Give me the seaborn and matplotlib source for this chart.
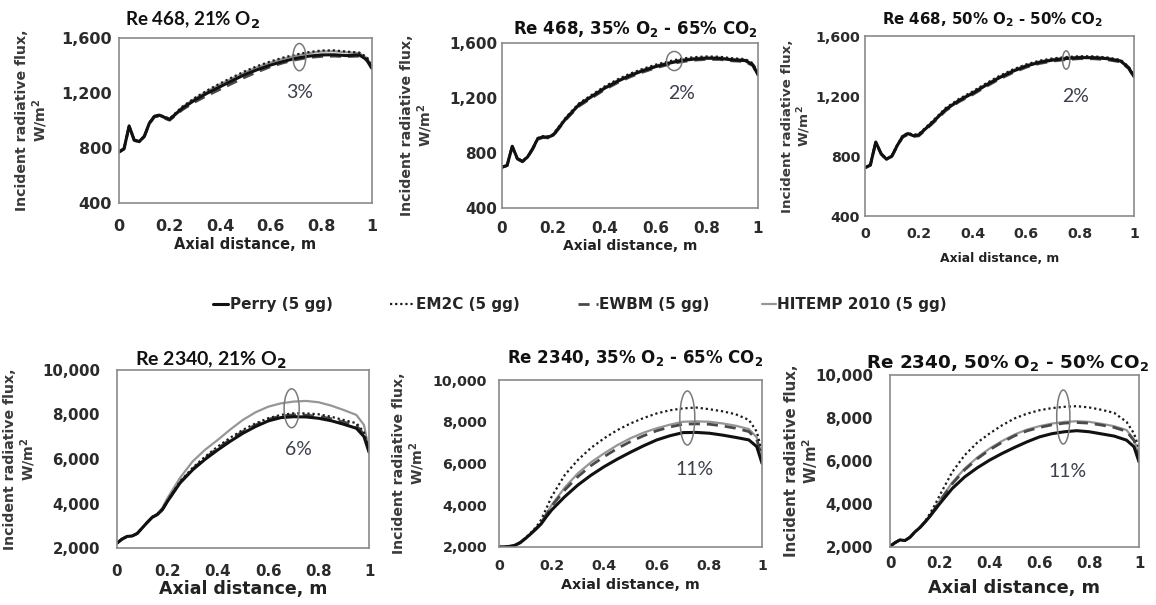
import numpy as np
import pandas as pd
import matplotlib
matplotlib.use("Agg")
import matplotlib.pyplot as plt
import seaborn as sns
from matplotlib.patches import Ellipse
from matplotlib.lines import Line2D
from matplotlib.ticker import MultipleLocator, FuncFormatter

# Axial positions along the furnace (m)
axial = [0.00, 0.02, 0.04, 0.06, 0.08, 0.10, 0.12, 0.14, 0.16, 0.18, 0.20, 0.25, 0.30, 0.35,
         0.40, 0.45, 0.50, 0.55, 0.60, 0.65, 0.70, 0.75, 0.80, 0.85, 0.90, 0.95, 0.98, 1.00]

models = ["Perry (5 gg)", "EM2C (5 gg)", "EWBM (5 gg)", "HITEMP 2010 (5 gg)"]

# Incident radiative flux (W/m2) -- Re 468, 21% O2
perry_468_21 = [771, 795, 960, 858, 846, 885, 980, 1030, 1038, 1022, 1008, 1088, 1149, 1200, 1246, 1292, 1336, 1372, 1404, 1430, 1453, 1468, 1477, 1478, 1472, 1477, 1441, 1380]
em2c_468_21 = [773, 798, 962, 860, 848, 888, 984, 1034, 1042, 1027, 1014, 1100, 1165, 1220, 1270, 1316, 1360, 1398, 1430, 1458, 1480, 1497, 1509, 1510, 1501, 1494, 1460, 1392]
ewbm_468_21 = [769, 792, 957, 855, 843, 882, 976, 1026, 1033, 1016, 1002, 1078, 1135, 1183, 1227, 1272, 1316, 1356, 1392, 1420, 1442, 1458, 1466, 1468, 1465, 1468, 1435, 1375]
hitemp_468_21 = [775, 800, 965, 862, 850, 890, 986, 1036, 1043, 1026, 1012, 1097, 1160, 1214, 1263, 1308, 1352, 1390, 1422, 1450, 1472, 1490, 1502, 1504, 1496, 1490, 1455, 1388]

# Re 468, 35% O2 - 65% CO2
perry_468_35 = [697, 710, 849, 759, 739, 771, 832, 905, 917, 915, 930, 1051, 1149, 1210, 1270, 1320, 1363, 1398, 1428, 1452, 1472, 1483, 1489, 1488, 1477, 1472, 1441, 1368]
em2c_468_35 = [699, 713, 852, 762, 742, 775, 837, 910, 922, 921, 937, 1060, 1160, 1222, 1283, 1334, 1377, 1412, 1442, 1466, 1486, 1497, 1502, 1500, 1489, 1483, 1452, 1377]
ewbm_468_35 = [695, 708, 846, 756, 736, 768, 828, 900, 912, 910, 925, 1044, 1140, 1200, 1260, 1310, 1353, 1388, 1419, 1443, 1463, 1475, 1481, 1480, 1470, 1465, 1435, 1362]
hitemp_468_35 = [698, 712, 851, 761, 741, 773, 835, 908, 920, 918, 934, 1056, 1155, 1216, 1277, 1327, 1370, 1405, 1435, 1459, 1479, 1490, 1496, 1494, 1483, 1478, 1447, 1373]

# Re 468, 50% O2 - 50% CO2
perry_468_50 = [722, 740, 893, 815, 778, 800, 870, 930, 949, 935, 940, 1022, 1110, 1170, 1218, 1272, 1322, 1365, 1400, 1425, 1440, 1450, 1456, 1455, 1449, 1433, 1389, 1329]
em2c_468_50 = [724, 743, 896, 818, 781, 804, 875, 935, 955, 941, 947, 1031, 1120, 1181, 1230, 1284, 1334, 1377, 1411, 1436, 1451, 1460, 1465, 1464, 1457, 1441, 1396, 1335]
ewbm_468_50 = [720, 738, 890, 812, 775, 797, 866, 925, 944, 930, 934, 1015, 1102, 1162, 1209, 1263, 1313, 1356, 1392, 1417, 1433, 1443, 1449, 1448, 1442, 1427, 1383, 1324]
hitemp_468_50 = [723, 742, 895, 817, 780, 802, 873, 933, 952, 938, 944, 1027, 1116, 1176, 1225, 1279, 1329, 1372, 1406, 1431, 1446, 1456, 1461, 1460, 1453, 1437, 1393, 1332]

# Re 2340, 21% O2
perry_2340_21 = [2220, 2400, 2520, 2540, 2650, 2900, 3150, 3380, 3500, 3720, 4090, 4920, 5510, 5990, 6410, 6800, 7160, 7460, 7710, 7860, 7900, 7890, 7830, 7720, 7560, 7380, 7010, 6310]
em2c_2340_21 = [2220, 2400, 2520, 2540, 2650, 2900, 3150, 3390, 3520, 3750, 4120, 4990, 5600, 6110, 6560, 6960, 7310, 7600, 7830, 7980, 8050, 8050, 8010, 7900, 7750, 7610, 7200, 6490]
ewbm_2340_21 = [2220, 2400, 2520, 2540, 2650, 2900, 3150, 3385, 3510, 3735, 4105, 4950, 5550, 6050, 6480, 6880, 7240, 7530, 7780, 7930, 7980, 7970, 7920, 7810, 7660, 7500, 7110, 6400]
hitemp_2340_21 = [2220, 2400, 2520, 2540, 2650, 2900, 3160, 3400, 3550, 3800, 4240, 5150, 5890, 6420, 6860, 7330, 7760, 8100, 8350, 8500, 8580, 8610, 8550, 8400, 8200, 7980, 7530, 6410]

# Re 2340, 35% O2 - 65% CO2
perry_2340_35 = [2000, 2000, 2030, 2080, 2200, 2400, 2620, 2850, 3100, 3450, 3770, 4410, 4970, 5440, 5850, 6210, 6540, 6850, 7130, 7330, 7480, 7490, 7450, 7360, 7250, 7130, 6810, 6010]
em2c_2340_35 = [2000, 2000, 2030, 2090, 2220, 2430, 2670, 2930, 3300, 3850, 4410, 5450, 6170, 6750, 7210, 7600, 7920, 8180, 8400, 8550, 8640, 8680, 8600, 8500, 8360, 8090, 7530, 6570]
ewbm_2340_35 = [2000, 2000, 2030, 2085, 2210, 2410, 2640, 2880, 3150, 3560, 3950, 4730, 5370, 5900, 6330, 6720, 7050, 7330, 7570, 7750, 7880, 7900, 7880, 7800, 7690, 7530, 7150, 6250]
hitemp_2340_35 = [2000, 2000, 2030, 2085, 2210, 2410, 2640, 2880, 3150, 3580, 4010, 4850, 5530, 6060, 6490, 6880, 7210, 7480, 7690, 7860, 8000, 8020, 8000, 7920, 7810, 7650, 7250, 6330]

# Re 2340, 50% O2 - 50% CO2
perry_2340_50 = [2030, 2200, 2330, 2300, 2450, 2700, 2900, 3150, 3420, 3720, 4020, 4720, 5260, 5680, 6040, 6350, 6630, 6890, 7120, 7270, 7360, 7410, 7360, 7260, 7160, 6970, 6660, 5960]
em2c_2340_50 = [2030, 2200, 2330, 2300, 2450, 2700, 2910, 3180, 3550, 3950, 4410, 5490, 6270, 6850, 7280, 7660, 7980, 8200, 8360, 8460, 8520, 8550, 8490, 8380, 8240, 7820, 7280, 6580]
ewbm_2340_50 = [2030, 2200, 2330, 2300, 2450, 2700, 2905, 3165, 3440, 3780, 4130, 4940, 5590, 6100, 6520, 6870, 7170, 7400, 7560, 7680, 7760, 7790, 7760, 7670, 7560, 7380, 6950, 6230]
hitemp_2340_50 = [2030, 2200, 2330, 2300, 2450, 2700, 2905, 3170, 3450, 3800, 4170, 5000, 5650, 6160, 6580, 6930, 7230, 7460, 7620, 7740, 7820, 7850, 7820, 7730, 7620, 7440, 7000, 6270]

SUB2 = r"$_\mathbf{2}$"
panels = [
    dict(title="Re 468, 21% O" + SUB2,
         series=[perry_468_21, em2c_468_21, ewbm_468_21, hitemp_468_21],
         ylim=(400, 1600), ymajor=400, yminor=100,
         ellipse=(0.713, 1461, 0.051, 198), note=("3%", 0.714, 1205)),
    dict(title="Re 468, 35% O" + SUB2 + " - 65% CO" + SUB2,
         series=[perry_468_35, em2c_468_35, ewbm_468_35, hitemp_468_35],
         ylim=(400, 1600), ymajor=400, yminor=100,
         ellipse=(0.673, 1469, 0.061, 139), note=("2%", 0.70, 1235)),
    dict(title="Re 468, 50% O" + SUB2 + " - 50% CO" + SUB2,
         series=[perry_468_50, em2c_468_50, ewbm_468_50, hitemp_468_50],
         ylim=(400, 1600), ymajor=400, yminor=100,
         ellipse=(0.748, 1440, 0.027, 122), note=("2%", 0.781, 1195)),
    dict(title="Re 2340, 21% O" + SUB2,
         series=[perry_2340_21, em2c_2340_21, ewbm_2340_21, hitemp_2340_21],
         ylim=(2000, 10000), ymajor=2000, yminor=1000,
         ellipse=(0.693, 8280, 0.060, 1750), note=("6%", 0.72, 6405)),
    dict(title="Re 2340, 35% O" + SUB2 + " - 65% CO" + SUB2,
         series=[perry_2340_35, em2c_2340_35, ewbm_2340_35, hitemp_2340_35],
         ylim=(2000, 10000), ymajor=2000, yminor=1000,
         ellipse=(0.716, 8180, 0.057, 2590), note=("11%", 0.745, 5690)),
    dict(title="Re 2340, 50% O" + SUB2 + " - 50% CO" + SUB2,
         series=[perry_2340_50, em2c_2340_50, ewbm_2340_50, hitemp_2340_50],
         ylim=(2000, 10000), ymajor=2000, yminor=1000,
         ellipse=(0.696, 8047, 0.053, 2510), note=("11%", 0.712, 5503)),
]

# Panel geometry in pixels (left, top, right, bottom) and text styling
layout = [
    dict(box=(119, 38, 372, 203), title_xy=(193, 20), title_font="Lato", title_size=13.5,
         tick_size=11.5, xpad=11.5, ypad=5, xlab_top=237, xlab_size=10.5, ylab_right=50, ylab_size=10.2),
    dict(box=(502, 43, 758, 208), title_xy=(635, 29), title_font="DejaVu Sans", title_size=12,
         tick_size=11, xpad=9, ypad=3.6, xlab_top=239, xlab_size=10, ylab_right=435, ylab_size=10.2),
    dict(box=(865, 36, 1134, 216), title_xy=(993, 20), title_font="DejaVu Sans", title_size=10.8,
         tick_size=10.2, xpad=8, ypad=3.6, xlab_top=252, xlab_size=8.9, ylab_right=813, ylab_size=9.7),
    dict(box=(117, 370, 369, 548), title_xy=(211, 360), title_font="Lato", title_size=14,
         tick_size=10.8, xpad=11.5, ypad=12.2, xlab_top=580, xlab_size=12.5, ylab_right=38, ylab_size=10.2),
    dict(box=(499, 380, 762, 547), title_xy=(635, 358), title_font="DejaVu Sans", title_size=12,
         tick_size=10.3, xpad=8.5, ypad=8.6, xlab_top=578, xlab_size=10.3, ylab_right=427, ylab_size=10.2),
    dict(box=(890, 375, 1139, 547), title_xy=(1008, 363), title_font="DejaVu Sans", title_size=13.2,
         tick_size=10.8, xpad=6.5, ypad=12.2, xlab_top=579, xlab_size=12.8, ylab_right=820, ylab_size=10.8),
]

line_styles = {
    "HITEMP 2010 (5 gg)": dict(color="#969696", linewidth=1.6, linestyle="-"),
    "EWBM (5 gg)": dict(color="#4a4a4a", linewidth=2.0, linestyle=(0, (4, 2.5))),
    "EM2C (5 gg)": dict(color="#1c1c1c", linewidth=1.6, linestyle=(0, (1, 1.3))),
    "Perry (5 gg)": dict(color="#111111", linewidth=2.2, linestyle="-"),
}
draw_order = ["HITEMP 2010 (5 gg)", "EWBM (5 gg)", "EM2C (5 gg)", "Perry (5 gg)"]

sns.set_style("white")
plt.rcParams["font.family"] = ["DejaVu Sans"]
plt.rcParams["mathtext.fontset"] = "dejavusans"

W, H = 1156, 605
fig = plt.figure(figsize=(W / 100, H / 100), dpi=100)

TICK_COLOR = "#2b2b2b"
SPINE_COLOR = "#8a8a8a"

for panel, lay in zip(panels, layout):
    l, t, r, b = lay["box"]
    ax = fig.add_axes([l / W, 1 - b / H, (r - l) / W, (b - t) / H])

    df = pd.DataFrame({"x": np.tile(axial, len(models)),
                       "flux": np.concatenate(panel["series"]),
                       "model": np.repeat(models, len(axial))})
    for m in draw_order:
        sub = df[df["model"] == m]
        sns.lineplot(data=sub, x="x", y="flux", ax=ax, legend=False,
                     errorbar=None, **line_styles[m])

    ax.set_xlim(0, 1)
    ax.set_ylim(*panel["ylim"])
    ax.xaxis.set_major_locator(MultipleLocator(0.2))
    ax.xaxis.set_minor_locator(MultipleLocator(0.1))
    ax.yaxis.set_major_locator(MultipleLocator(panel["ymajor"]))
    ax.yaxis.set_minor_locator(MultipleLocator(panel["yminor"]))
    ax.xaxis.set_major_formatter(FuncFormatter(lambda v, p: f"{v:g}"))
    ax.yaxis.set_major_formatter(FuncFormatter(lambda v, p: f"{v:,.0f}"))
    ax.tick_params(which="both", direction="in", color=SPINE_COLOR, width=1)
    ax.tick_params(which="major", length=4)
    ax.tick_params(which="minor", length=3)
    ax.tick_params(axis="x", which="major", pad=lay["xpad"])
    ax.tick_params(axis="y", which="major", pad=lay["ypad"])
    for lab in ax.get_xticklabels() + ax.get_yticklabels():
        lab.set_fontsize(lay["tick_size"])
        lab.set_fontweight("bold")
        lab.set_color(TICK_COLOR)
    for sp in ax.spines.values():
        sp.set_visible(True)
        sp.set_color(SPINE_COLOR)
        sp.set_linewidth(1.2)

    # axis labels
    ax.set_xlabel("Axial distance, m", fontsize=lay["xlab_size"], fontweight="bold", color="#222222")
    ax.xaxis.set_label_coords(0.5, (b - lay["xlab_top"]) / (b - t))
    ax.set_ylabel("Incident radiative flux,\nW/m$^\\mathbf{2}$", fontsize=lay["ylab_size"],
                  fontweight="bold", color="#3a3a3a", linespacing=1.1)
    ax.yaxis.set_label_coords((lay["ylab_right"] - l) / (r - l), 0.5)

    # panel title
    tx, ty = lay["title_xy"]
    ax.text((tx - l) / (r - l), (b - ty) / (b - t), panel["title"], transform=ax.transAxes,
            ha="center", va="center", fontsize=lay["title_size"], fontweight="bold",
            family=[lay["title_font"], "DejaVu Sans"], color="#111111")

    # spread marker and its percentage
    ex, ey, ew, eh = panel["ellipse"]
    ax.add_patch(Ellipse((ex, ey), ew, eh, fill=False, edgecolor="#7a7a7a", linewidth=1.1, zorder=5))
    txt, nx, ny = panel["note"]
    ax.text(nx, ny, txt, ha="center", va="center", fontsize=14, family=["Lato", "DejaVu Sans"],
            color="#3b404c")

# shared legend row
legend_x = {"Perry (5 gg)": (213, 1.0), "EM2C (5 gg)": (390, 1.6),
            "EWBM (5 gg)": (578, 1.3), "HITEMP 2010 (5 gg)": (762, 0.9)}
for m in models:
    px, hl = legend_x[m]
    st = line_styles[m]
    h = Line2D([], [], color=st["color"], linewidth=st["linewidth"], linestyle=st["linestyle"])
    fig.legend([h], [m], loc="center left", bbox_to_anchor=(px / W, 1 - 305 / H),
               frameon=False, borderpad=0, borderaxespad=0, handlelength=hl,
               handletextpad=0.1, prop=dict(weight="bold", size=11))

fig.savefig("out.png", dpi=100)
